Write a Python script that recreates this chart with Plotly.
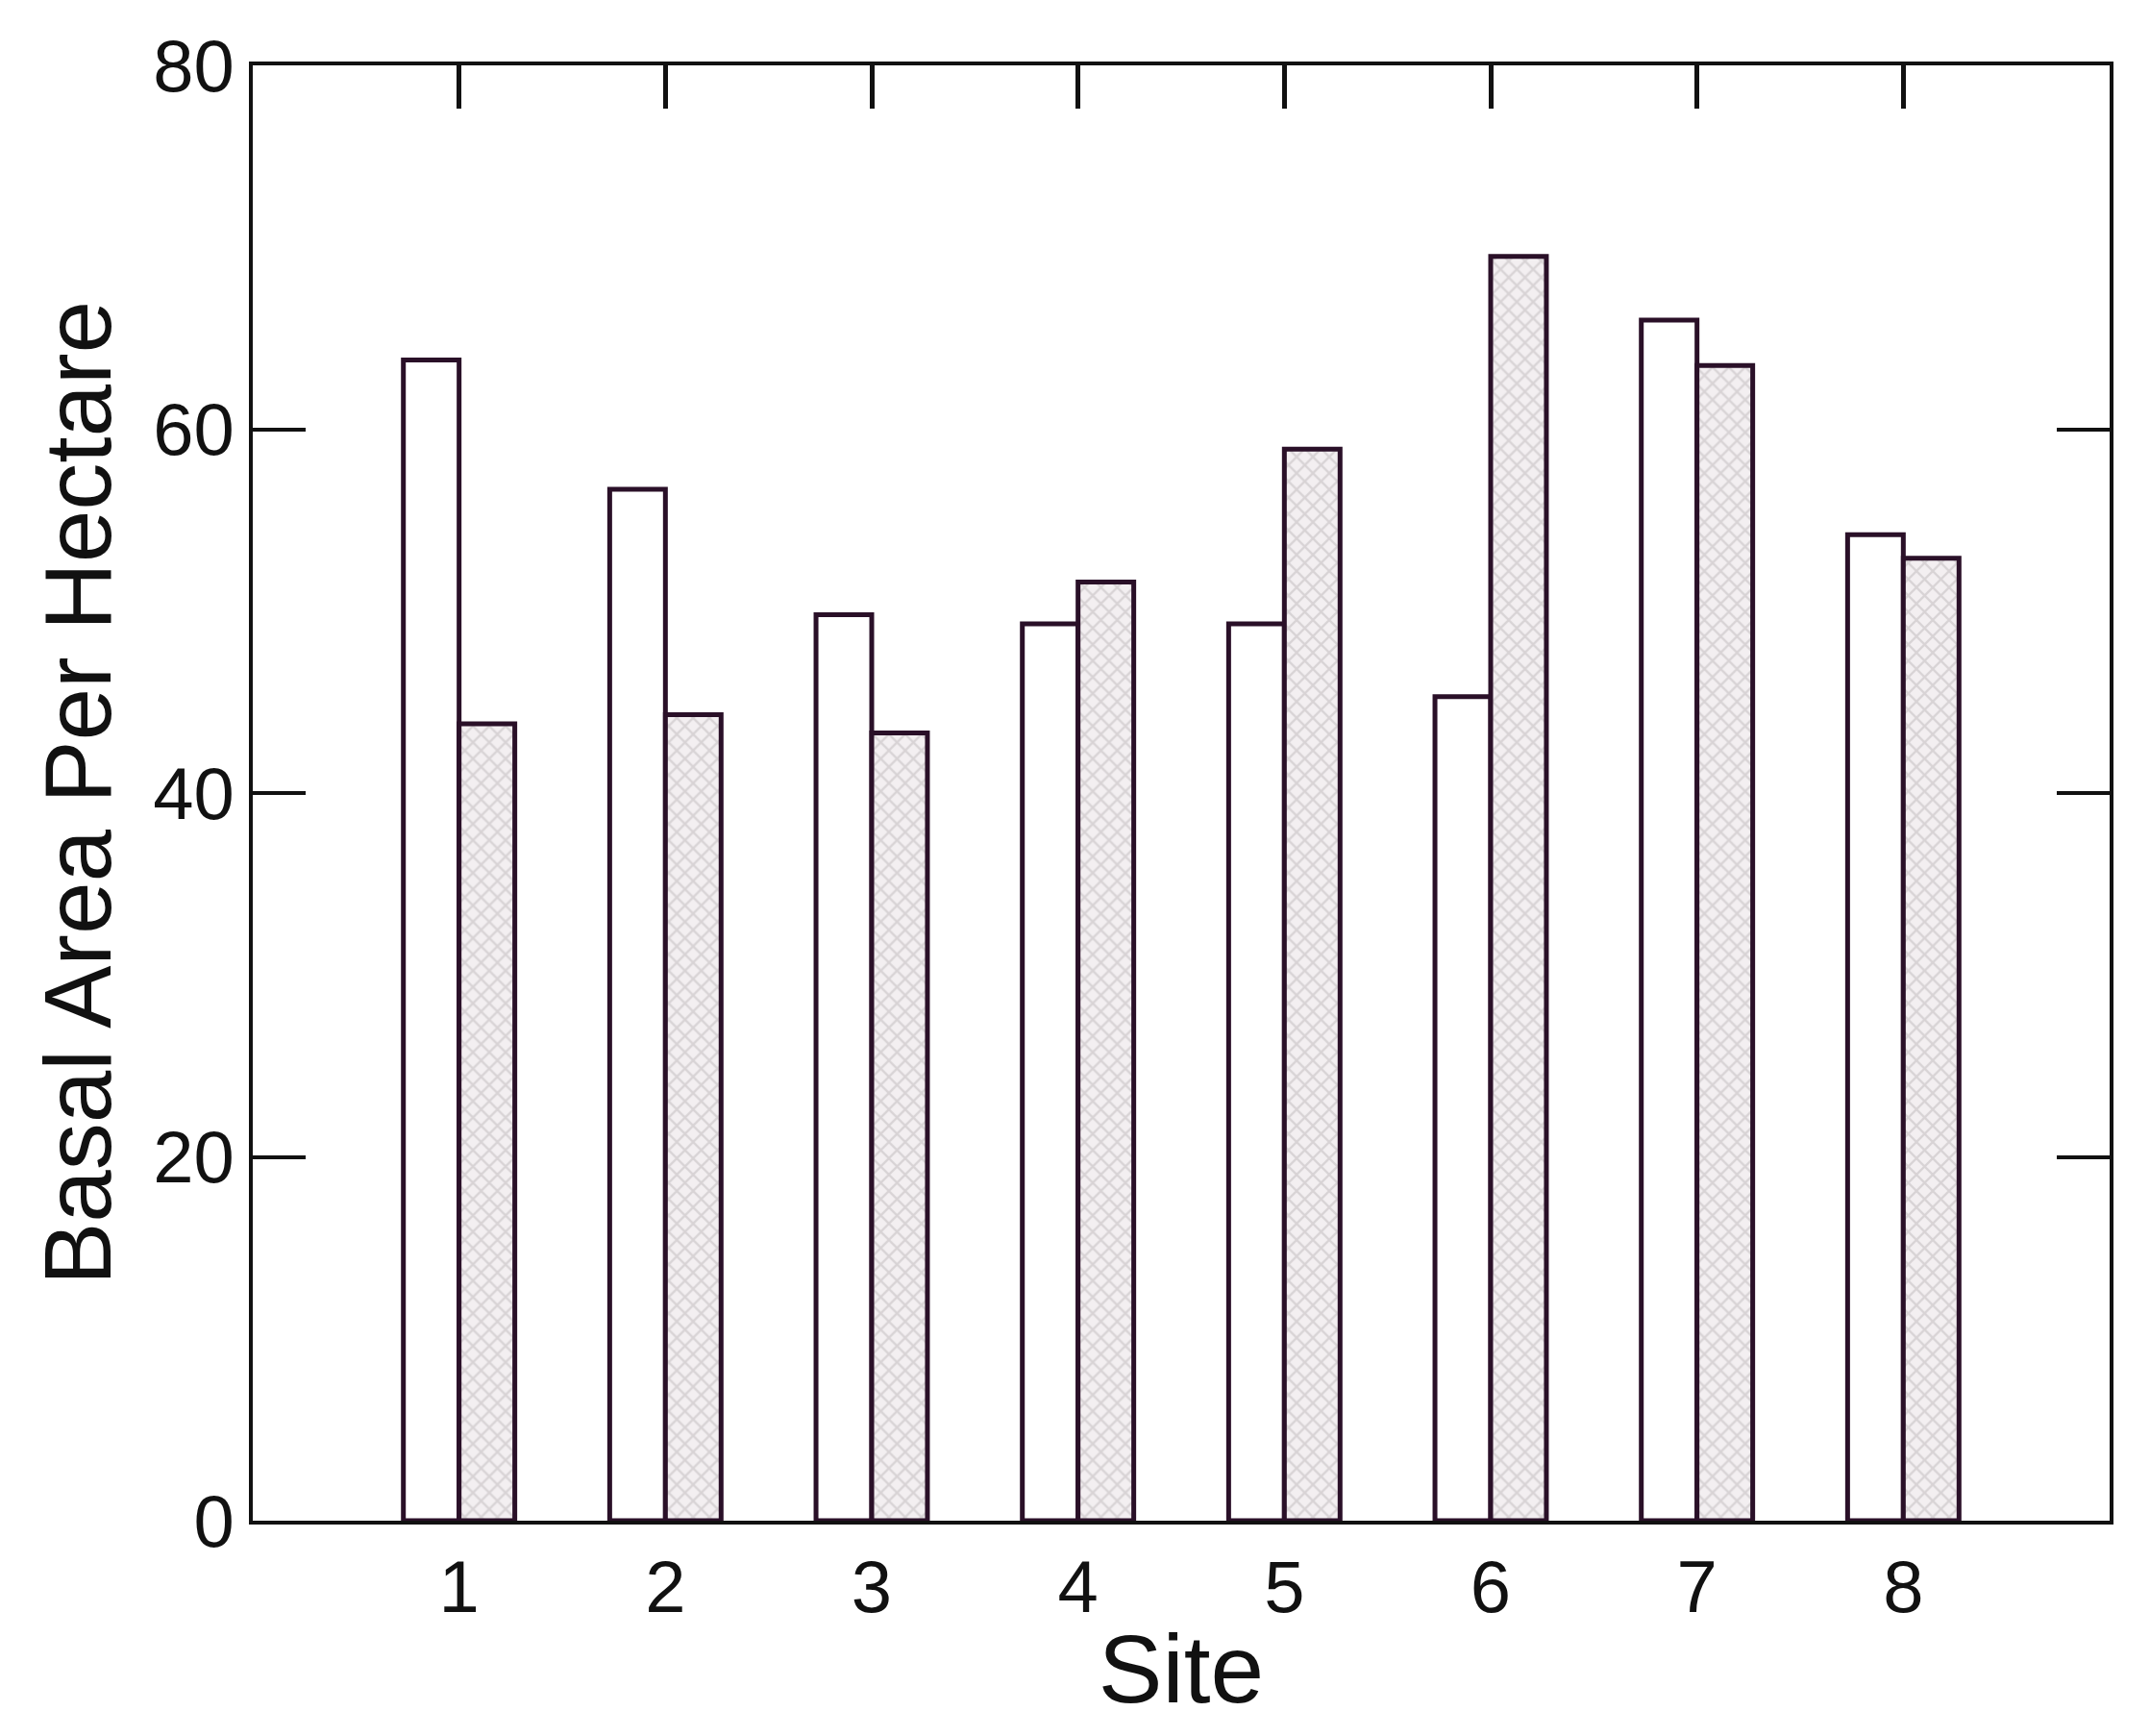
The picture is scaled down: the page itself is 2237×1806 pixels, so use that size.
import plotly.graph_objects as go

sites = [1, 2, 3, 4, 5, 6, 7, 8]
series_a = [63.8, 56.7, 49.8, 49.3, 49.3, 45.3, 66.0, 54.2]
series_b = [43.8, 44.3, 43.3, 51.6, 58.9, 69.5, 63.5, 52.9]

line = dict(color="#2a1028", width=5)
fig = go.Figure()
fig.add_trace(go.Bar(x=sites, y=series_a, marker=dict(color="white", line=line)))
fig.add_trace(go.Bar(x=sites, y=series_b, marker=dict(color="#eeeaec", line=line,
              pattern=dict(shape="x", fgcolor="#bdb8ba", bgcolor="#f3eff1", size=12, solidity=0.35))))
fig.add_trace(go.Scatter(x=sites, y=[None]*8, xaxis="x2", showlegend=False))

font = "Liberation Sans, Arial, sans-serif"
fig.update_layout(
    width=2237, height=1806, paper_bgcolor="white", plot_bgcolor="white",
    showlegend=False, barmode="group", bargap=0.46, bargroupgap=0,
    margin=dict(l=255, r=50, t=60, b=232),
    font=dict(family=font, color="#111"),
    xaxis=dict(range=[0, 9], tickvals=sites, ticks="", showline=True, linecolor="#111",
               linewidth=4, tickfont=dict(size=76), showgrid=False, zeroline=False,
               title=dict(text="Site", font=dict(size=100), standoff=10)),
    xaxis2=dict(range=[0, 9], overlaying="x", side="top", tickvals=sites, ticks="inside",
                ticklen=45, tickwidth=5, tickcolor="#111", showticklabels=False,
                showline=True, linecolor="#111", linewidth=4, showgrid=False),
    yaxis=dict(range=[0, 80], tickvals=[0, 20, 40, 60, 80], ticks="inside", ticklen=55,
               tickwidth=4, tickcolor="#111", mirror="ticks", showline=True, linecolor="#111",
               linewidth=4, showgrid=False, zeroline=False, tickfont=dict(size=76),
               title=dict(text="Basal Area Per Hectare", font=dict(size=98), standoff=12)),
)
fig.write_html("out.html")
